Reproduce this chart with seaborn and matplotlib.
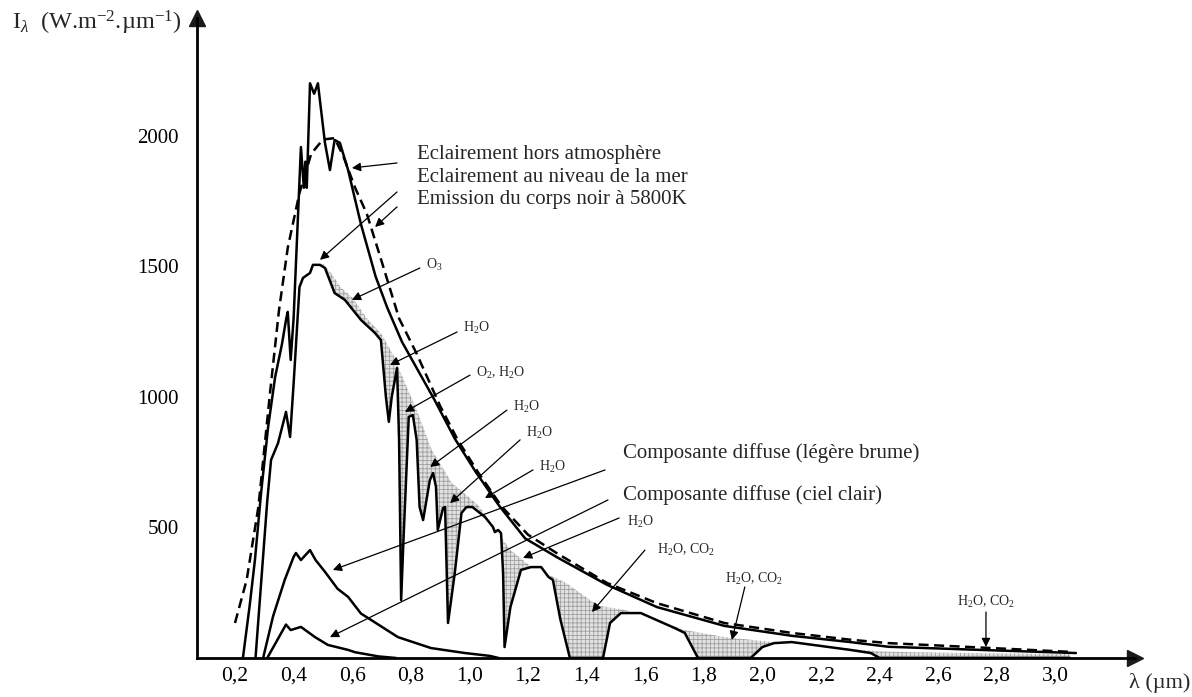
import numpy as np
import pandas as pd
import matplotlib.pyplot as plt
import seaborn as sns

sns.set_theme(style="white")
plt.rcParams['font.family'] = ['Liberation Serif', 'DejaVu Serif']
plt.rcParams['mathtext.fontset'] = 'custom'
plt.rcParams['mathtext.rm'] = 'Liberation Serif'
plt.rcParams['mathtext.it'] = 'Liberation Serif:italic'
plt.rcParams['hatch.color'] = '#8c8c8c'
plt.rcParams['hatch.linewidth'] = 0.6

# --- data (lambda in um, irradiance in W.m-2.um-1) ---
# blackbody 5800 K (dashed)
lam_bb = [0.20, 0.24, 0.28, 0.30, 0.32, 0.35, 0.38, 0.42, 0.46, 0.50, 0.54, 0.57,
          0.61, 0.65, 0.70, 0.76, 0.82, 0.90, 0.96, 1.03, 1.11, 1.20, 1.30, 1.47,
          1.64, 1.87, 2.10, 2.30, 2.43, 2.71, 3.06]
val_bb = [134, 300, 580, 800, 1020, 1330, 1570, 1780, 1930, 1985, 1990, 1920,
          1800, 1700, 1520, 1300, 1165, 965, 835, 710, 580, 472, 400, 287,
          210, 134, 96, 70, 57, 42, 23]

# extraterrestrial irradiance (hors atmosphere)
lam_ext = [0.227, 0.25, 0.268, 0.289, 0.313, 0.337, 0.36, 0.375, 0.38, 0.39, 0.40,
           0.425, 0.435, 0.44, 0.445, 0.456, 0.47, 0.483, 0.507, 0.524, 0.54, 0.558,
           0.586, 0.63, 0.68, 0.72, 0.77, 0.82, 0.88, 0.95, 1.02, 1.10, 1.19, 1.30,
           1.47, 1.64, 1.87, 2.10, 2.30, 2.43, 2.77, 3.07]
val_ext = [0, 200, 375, 632, 884, 1076, 1200, 1300, 1325, 1141, 1300,
           1956, 1800, 1900, 1800, 2200, 2160, 2200, 1972, 1868, 1983, 1972,
           1868, 1660, 1460, 1340, 1210, 1110, 990, 840, 715, 585, 458, 385,
           280, 195, 123, 85, 61, 43, 30, 19]

# sea level irradiance
lam_sea = [0.27, 0.29, 0.31, 0.323, 0.347, 0.374, 0.388, 0.40, 0.405, 0.42, 0.432,
           0.456, 0.466, 0.49, 0.507, 0.54, 0.575, 0.63, 0.678, 0.698, 0.715, 0.725,
           0.735, 0.753, 0.76, 0.767, 0.775, 0.793, 0.807, 0.82, 0.83, 0.842, 0.865,
           0.876, 0.886, 0.892, 0.91, 0.917, 0.927, 0.95, 0.973, 0.99, 1.01, 1.053,
           1.08, 1.087, 1.098, 1.108, 1.115, 1.12, 1.14, 1.176, 1.21, 1.245, 1.27,
           1.285, 1.31, 1.343, 1.456, 1.48, 1.517, 1.585, 1.70, 1.735, 1.78, 1.96,
           2.0, 2.04, 2.1, 2.3, 2.37, 2.4, 3.05]
val_sea = [0, 300, 600, 758, 823, 942, 846, 1050, 1141, 1420, 1455,
           1474, 1505, 1505, 1493, 1397, 1371, 1294, 1244, 1217, 1000, 904,
           1000, 1110, 835, 222, 452, 923, 930, 835, 578, 528, 681,
           708, 655, 490, 574, 578, 134, 325, 555, 578, 578, 540,
           502, 482, 490, 478, 325, 42, 195, 337, 348, 348, 310,
           299, 150, 0, 0, 134, 172, 172, 115, 96, 0, 0,
           42, 57, 61, 31, 19, 0, 0]

# upper edge of the absorbed (stippled) area
lam_abs = [0.50, 0.53, 0.56, 0.60, 0.65, 0.70, 0.74, 0.78, 0.82, 0.87, 0.94, 1.03,
           1.14, 1.21, 1.33, 1.44, 1.53, 1.65, 1.735, 1.87, 1.99, 2.10, 2.25, 2.40,
           2.60, 2.80, 3.05]
val_abs = [1510, 1470, 1420, 1380, 1300, 1240, 1160, 1053, 950, 800, 670, 585,
           413, 350, 287, 200, 184, 140, 107, 80, 66, 55, 40, 25,
           20, 18, 15]

# diffuse component, light haze
lam_haze = [0.296, 0.33, 0.37, 0.40, 0.408, 0.425, 0.456, 0.475, 0.507, 0.55, 0.586,
            0.63, 0.664, 0.756, 0.869, 0.985, 1.07, 1.10]
val_haze = [0, 160, 300, 387, 402, 375, 413, 375, 330, 265, 234,
            170, 146, 80, 38, 19, 8, 0]

# diffuse component, clear sky
lam_clear = [0.31, 0.34, 0.374, 0.39, 0.425, 0.473, 0.517, 0.586, 0.61, 0.69, 0.75]
val_clear = [0, 60, 128, 107, 119, 80, 50, 31, 22, 6, 0]

xtick_vals = [0.2, 0.4, 0.6, 0.8, 1.0, 1.2, 1.4, 1.6, 1.8, 2.0, 2.2, 2.4, 2.6, 2.8, 3.0]
xtick_labels = ["0,2", "0,4", "0,6", "0,8", "1,0", "1,2", "1,4", "1,6", "1,8", "2,0",
                "2,2", "2,4", "2,6", "2,8", "3,0"]
ytick_vals = [500, 1000, 1500, 2000]

W, H = 1192, 697
x_end = 1135
lam0, lam1 = 0.0703, 0.2 + (x_end - 235) / 293
fig = plt.figure(figsize=(W / 100, H / 100), dpi=100)
fig.patch.set_facecolor('white')
ax = fig.add_axes([197 / W, 39 / H, (x_end - 197) / W, (658 - 18) / H])
ax.set_facecolor('white')
ax.set_xlim(lam0, lam1)
ax.set_ylim(0, 2450)

# stippled absorption bands: grey under the edge, then blank out below sea level
ax.fill_between(lam_abs, 0, val_abs, facecolor='#e2e2e2', hatch='++++',
                edgecolor='#a0a0a0', linewidth=0, zorder=1)
ax.fill_between(lam_sea, 0, val_sea, facecolor='white', linewidth=0, zorder=1.5)

lw = 1.8
sns.lineplot(x=lam_bb, y=val_bb, ax=ax, color='black', lw=lw, estimator=None,
             sort=False, zorder=3)
ax.lines[-1].set_dashes([4.0, 2.2])
for lx, ly in [(lam_ext, val_ext), (lam_sea, val_sea), (lam_haze, val_haze),
               (lam_clear, val_clear)]:
    sns.lineplot(x=lx, y=ly, ax=ax, color='black', lw=lw, estimator=None,
                 sort=False, zorder=3)

# axes
for s in ['top', 'right']:
    ax.spines[s].set_visible(False)
for s in ['left', 'bottom']:
    ax.spines[s].set_color('black')
    ax.spines[s].set_linewidth(2)
    ax.spines[s].set_zorder(4)
ax.plot(1, 0, '>k', ms=11, transform=ax.get_yaxis_transform(), clip_on=False)
ax.plot(lam0, 1, '^k', ms=11, transform=ax.get_xaxis_transform(), clip_on=False)

ax.set_xticks(xtick_vals)
ax.set_xticklabels(xtick_labels)
ax.set_yticks(ytick_vals)
ax.set_yticklabels([str(v) for v in ytick_vals])
ax.tick_params(axis='x', direction='in', length=11.5, width=1.5, pad=6,
               labelsize=15.5, colors='black')
ax.tick_params(axis='y', direction='inout', length=12, width=1.5, pad=7,
               labelsize=15, colors='black')
ax.set_xlabel('')
ax.set_ylabel('')
ax.grid(False)

fig.text(12 / W, 1 - 23 / H, r'I$_\lambda$  (W.m$^{-2}$.µm$^{-1}$)',
         fontsize=17.5, va='center', ha='left')
fig.text(1190 / W, 1 - 683 / H, 'λ (µm)', fontsize=16, va='center', ha='right')

# annotations
thin = dict(arrowstyle='-|>', color='black', lw=0.9, mutation_scale=13,
            shrinkA=0, shrinkB=0)


def arrow(xy, xyfrom):
    ax.annotate('', xy=xy, xytext=xyfrom, arrowprops=thin, zorder=5)


ax.text(0.821, 1926, 'Eclairement hors atmosphère', fontsize=15, va='center')
ax.text(0.821, 1838, 'Eclairement au niveau de la mer', fontsize=15, va='center')
ax.text(0.821, 1754, 'Emission du corps noir à 5800K', fontsize=15, va='center')
arrow((0.599, 1876), (0.753, 1895))
arrow((0.49, 1524), (0.753, 1784))
arrow((0.678, 1650), (0.753, 1727))

ax.text(1.524, 785, 'Composante diffuse (légère brume)', fontsize=15, va='center')
ax.text(1.524, 624, 'Composante diffuse (ciel clair)', fontsize=15, va='center')
arrow((0.534, 337), (1.463, 720))
arrow((0.524, 80), (1.473, 605))

# (label, arrow tip, arrow tail, label left x, label y)
mol = [(r'O$_3$', (0.599, 1371), (0.831, 1493), 0.851, 1505),
       (r'H$_2$O', (0.729, 1122), (0.958, 1248), 0.978, 1263),
       (r'O$_2$, H$_2$O', (0.780, 942), (1.002, 1083), 1.022, 1091),
       (r'H$_2$O', (0.866, 731), (1.128, 949), 1.148, 961),
       (r'H$_2$O', (0.934, 593), (1.173, 835), 1.193, 861),
       (r'H$_2$O', (1.053, 612), (1.217, 720), 1.237, 731),
       (r'H$_2$O', (1.183, 383), (1.511, 536), 1.538, 521),
       (r'H$_2$O, CO$_2$', (1.418, 176), (1.599, 413), 1.640, 413),
       (r'H$_2$O, CO$_2$', (1.896, 69), (1.94, 272), 1.872, 302)]
for txt, tip, tail, tx, ty in mol:
    arrow(tip, tail)
    ax.text(tx, ty, txt, fontsize=10, va='center', ha='left')

arrow((2.763, 42), (2.763, 176))
ax.text(2.664, 214, r'H$_2$O, CO$_2$', fontsize=10, va='center', ha='left')

fig.savefig('out.png', dpi=100, facecolor='white')
